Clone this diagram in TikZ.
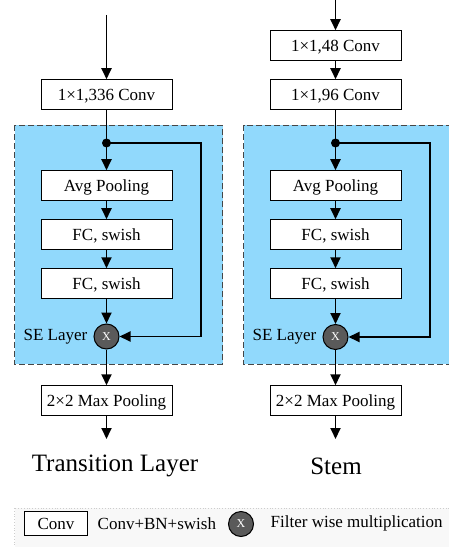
\documentclass[tikz,border=0pt]{standalone}
\usepackage{fontspec}
\setmainfont{Liberation Serif}
\usetikzlibrary{arrows.meta}
\definecolor{seblue}{RGB}{145,217,252}
\definecolor{dashgrey}{RGB}{70,70,70}
\definecolor{multgrey}{RGB}{90,90,90}
\definecolor{legendbg}{RGB}{248,248,248}
\definecolor{legendline}{RGB}{205,205,205}

\begin{document}
\begin{tikzpicture}[x=1bp,y=-1bp,
  layerbox/.style={draw=black, line width=1bp, fill=white, minimum width=131bp,
    minimum height=29.5bp, inner sep=0pt, text height=12bp, text depth=0bp,
    font=\fontsize{17bp}{19bp}\selectfont},
  flow/.style={line width=1.9bp, -{Triangle[length=11bp,width=10bp]}},
  trunk/.style={line width=1.9bp},
  mult/.style={circle, draw=black, line width=1bp, fill=multgrey, minimum size=25bp,
    inner sep=0pt, text=white, font=\fontsize{12bp}{13bp}\selectfont},
  sezone/.style={fill=seblue, draw=dashgrey, dash pattern=on 6bp off 3bp, line width=1bp},
  plain/.style={inner sep=0pt, font=\fontsize{17bp}{19bp}\selectfont},
  title/.style={inner sep=0pt, font=\fontsize{25bp}{28bp}\selectfont},
  splitdot/.style={circle, fill=black, minimum size=9bp, inner sep=0pt}]

\useasboundingbox (0,0) rectangle (449,547);

% SE zones (shaded, dashed)
\path[sezone] (14.5,125.5) rectangle (222.5,364);
\path[sezone] (243.5,125.5) rectangle (460,364);

% ---- Transition layer column ----
\coordinate (tin) at (106.5,15);
\node[layerbox] (tconv) at (106.5,94.5) {1×1,336 Conv};
\node[splitdot] (tsplit) at (106.5,143) {};
\node[layerbox] (tavg) at (106.5,185.5) {Avg Pooling};
\node[layerbox] (tfc1) at (106.5,234.5) {FC, swish};
\node[layerbox] (tfc2) at (106.5,283.5) {FC, swish};
\node[mult] (tmul) at (106.5,336.5) {X};
\node[plain, anchor=east] (tse) at ([xshift=-6bp]tmul.west) {SE Layer};
\node[layerbox] (tmax) at (106.5,400.5) {2×2 Max Pooling};
\coordinate (tout) at (106.5,439);
\node[title, anchor=base] (ttitle) at (115,471.5) {Transition Layer};

\draw[flow] (tin) -- (tconv.north);
\draw[trunk] (tconv.south) -- (tsplit.center);
\draw[flow] (tsplit.center) -- (tavg.north);
\draw[flow] (tavg.south) -- (tfc1.north);
\draw[flow] (tfc1.south) -- (tfc2.north);
\draw[flow] (tfc2.south) -- (tmul.north);
\draw[flow] (tsplit.center) -- ++(94.5,0) |- (tmul.east);
\draw[flow] (tmul.south) -- (tmax.north);
\draw[flow] (tmax.south) -- (tout);

% ---- Stem column ----
\coordinate (sin) at (335.5,0);
\node[layerbox] (sconv1) at (335.5,45.5) {1×1,48 Conv};
\node[layerbox] (sconv2) at (335.5,94.5) {1×1,96 Conv};
\node[splitdot] (ssplit) at (335.5,143) {};
\node[layerbox] (savg) at (335.5,185.5) {Avg Pooling};
\node[layerbox] (sfc1) at (335.5,234.5) {FC, swish};
\node[layerbox] (sfc2) at (335.5,283.5) {FC, swish};
\node[mult] (smul) at (335.5,337) {X};
\node[plain, anchor=east] (sse) at ([xshift=-6bp]smul.west) {SE Layer};
\node[layerbox] (smax) at (335.5,400.5) {2×2 Max Pooling};
\coordinate (sout) at (335.5,439);
\node[title, anchor=base] (stitle) at (336,474.5) {Stem};

\draw[flow] (sin) -- (sconv1.north);
\draw[flow] (sconv1.south) -- (sconv2.north);
\draw[trunk] (sconv2.south) -- (ssplit.center);
\draw[flow] (ssplit.center) -- (savg.north);
\draw[flow] (savg.south) -- (sfc1.north);
\draw[flow] (sfc1.south) -- (sfc2.north);
\draw[flow] (sfc2.south) -- (smul.north);
\draw[flow] (ssplit.center) -- ++(94.5,0) |- (smul.east);
\draw[flow] (smul.south) -- (smax.north);
\draw[flow] (smax.south) -- (sout);

% ---- Legend ----
\path[fill=legendbg, draw=legendline, dotted, line width=0.8bp] (14.5,508) rectangle (470,570);
\node[layerbox, minimum width=63.5bp, minimum height=24bp] (lconv) at (56,523.5) {Conv};
\node[plain, anchor=west] (lconvtxt) at (97.5,523.5) {Conv+BN+swish};
\node[mult] (lmul) at (241,524) {X};
\node[plain, anchor=west] (lmultxt) at (270.5,523.5) {Filter wise multiplication};
\end{tikzpicture}
\end{document}
